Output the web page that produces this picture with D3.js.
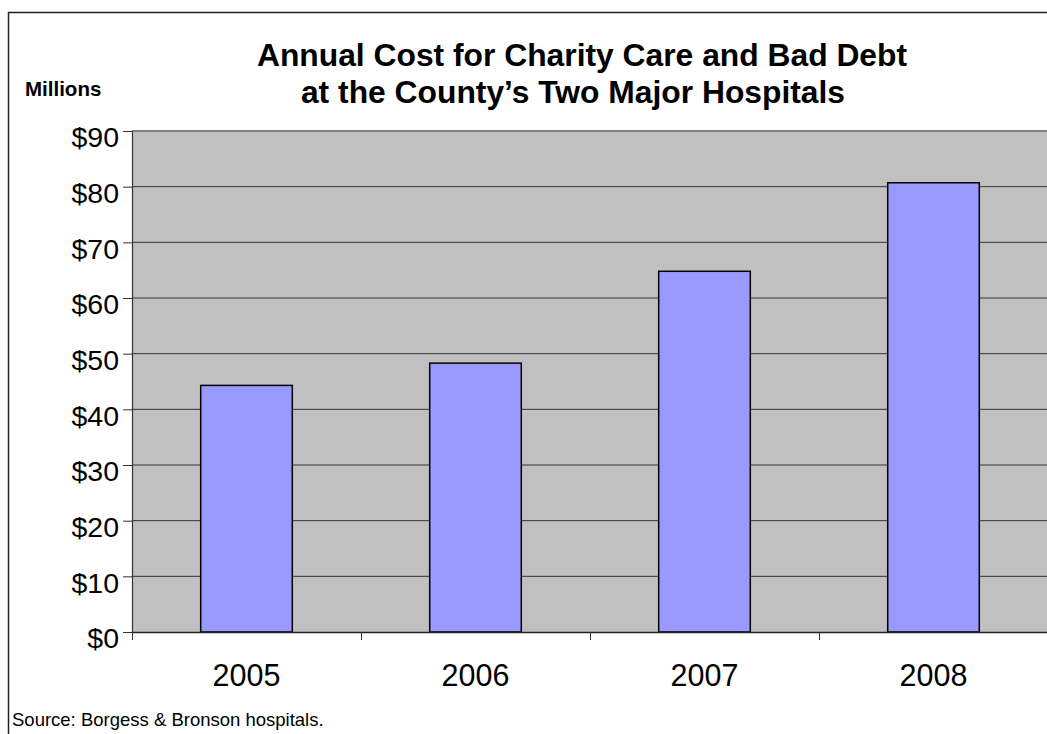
<!DOCTYPE html>
<html>
<head>
<meta charset="utf-8">
<script src="https://cdn.jsdelivr.net/npm/d3@7"></script>
<style>
  html, body { margin: 0; padding: 0; background: #fff; }
  svg { display: block; }
  text { font-family: "Liberation Sans", Arial, sans-serif; fill: #000; }
</style>
</head>
<body>
<svg id="chart" width="1047" height="734"></svg>
<script>
const years = ["2005", "2006", "2007", "2008"];
const costs = [44.3, 48.3, 64.8, 80.7];
const yTicks = [0, 10, 20, 30, 40, 50, 60, 70, 80, 90];
const titleLines = ["Annual Cost for Charity Care and Bad Debt", "at the County\u2019s Two Major Hospitals"];
const unitLabel = "Millions";
const sourceNote = "Source: Borgess & Bronson hospitals.";

const svg = d3.select("#chart");
const W = 1047, H = 734;
const plot = { left: 132, right: 1048, top: 131, bottom: 632 };

// outer frame
svg.append("rect")
  .attr("x", 8.5).attr("y", 12.5)
  .attr("width", W + 10).attr("height", H + 10)
  .attr("fill", "none").attr("stroke", "#222").attr("stroke-width", 1.5);

const x = d3.scaleBand().domain(years)
  .range([plot.left, plot.right]).paddingInner(0.6).paddingOuter(0.3);
const xb = d3.scaleLinear().domain([0, years.length]).range([plot.left, plot.right]);
const y = d3.scaleLinear().domain([0, 90]).range([plot.bottom, plot.top]);

// plot background
svg.append("rect")
  .attr("x", plot.left).attr("y", y(90))
  .attr("width", plot.right - plot.left).attr("height", y(0) - y(90))
  .attr("fill", "#C0C0C0");

// gridlines
svg.append("g").selectAll("line").data(yTicks.filter(d => d > 0))
  .join("line")
  .attr("x1", plot.left).attr("x2", plot.right)
  .attr("y1", d => y(d)).attr("y2", d => y(d))
  .attr("stroke", d => d === 90 ? "#808080" : "#333")
  .attr("stroke-width", d => d === 90 ? 2 : 1);

// bars
svg.append("g").selectAll("rect").data(years)
  .join("rect")
  .attr("x", d => x(d))
  .attr("y", (d, i) => y(costs[i]))
  .attr("width", x.bandwidth())
  .attr("height", (d, i) => y(0) - y(costs[i]))
  .attr("fill", "#9999FF")
  .attr("stroke", "#000").attr("stroke-width", 1.5);

// y axis
const yAxis = svg.append("g").attr("transform", `translate(${plot.left},0)`)
  .call(d3.axisLeft(y).tickValues(yTicks).tickSize(9).tickPadding(4)
    .tickFormat(d => "$" + d));
yAxis.select(".domain").attr("stroke", "#333").attr("stroke-width", 1.2);
yAxis.selectAll(".tick line").attr("stroke", "#333");
yAxis.selectAll(".tick text")
  .style("font-family", "'Liberation Sans', Arial, sans-serif")
  .attr("font-size", 28.5).attr("dy", "0.55em").attr("fill", "#000");

// x axis (ticks at category boundaries)
const xAxis = svg.append("g").attr("transform", `translate(0,${plot.bottom})`)
  .call(d3.axisBottom(xb).tickValues(d3.range(0, years.length)).tickSize(8).tickFormat(""));
xAxis.select(".domain").attr("stroke", "#222").attr("stroke-width", 1.5)
  .attr("d", `M${plot.left},0.5H${plot.right}`);
xAxis.selectAll(".tick line").attr("stroke", "#333");

// x labels
svg.append("g").selectAll("text").data(years)
  .join("text")
  .attr("x", d => x(d) + x.bandwidth() / 2)
  .attr("y", 686)
  .attr("text-anchor", "middle")
  .attr("font-size", 30.5)
  .text(d => d);

// title
svg.append("text").attr("x", 582).attr("y", 66).attr("text-anchor", "middle")
  .attr("font-size", 31.8).attr("font-weight", "bold").text(titleLines[0]);
svg.append("text").attr("x", 573).attr("y", 103).attr("text-anchor", "middle")
  .attr("font-size", 31.8).attr("font-weight", "bold").text(titleLines[1]);

// units label
svg.append("text").attr("x", 25).attr("y", 96)
  .attr("font-size", 20.5).attr("font-weight", "bold").text(unitLabel);

// source
svg.append("text").attr("x", 12).attr("y", 726)
  .attr("font-size", 18.5).text(sourceNote);
</script>
</body>
</html>
